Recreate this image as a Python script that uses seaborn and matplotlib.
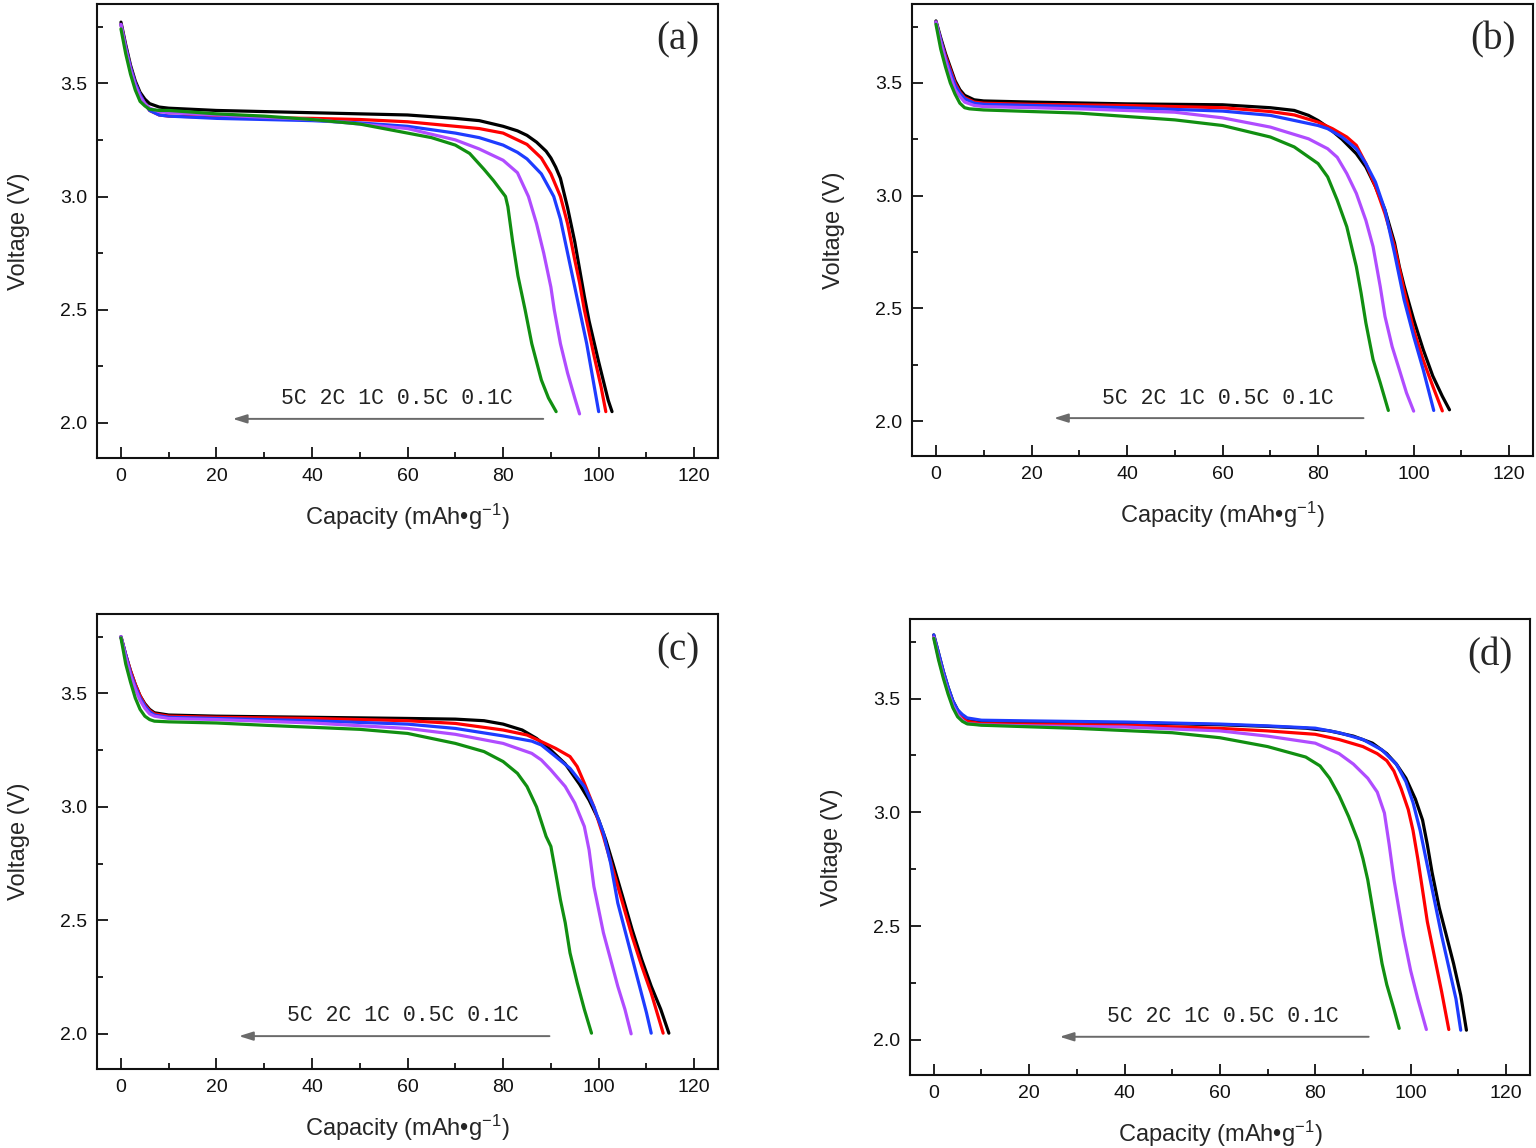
"""
Rate-capability discharge curves (0.1C to 5C) for four samples, 2x2 panels.
"""

import numpy as np
import pandas as pd
import seaborn as sns
import matplotlib.pyplot as plt
from matplotlib.ticker import MultipleLocator

RATES = ["0.1C", "0.5C", "1C", "2C", "5C"]
COLORS = {"0.1C": "#000000", "0.5C": "#ff0000", "1C": "#1e3cff",
          "2C": "#b04cff", "5C": "#118f11"}

# ---- panel (a): (capacity mAh/g, voltage V)
A_01C = [(0, 3.77), (0.5, 3.72), (1, 3.67), (2, 3.58), (3, 3.51), (4, 3.46), (5, 3.43),
         (6, 3.41), (8, 3.395), (10, 3.39), (20, 3.38), (40, 3.37), (60, 3.36), (70, 3.345),
         (75, 3.335), (80, 3.31), (83, 3.29), (85, 3.27), (87, 3.24), (88, 3.22), (89, 3.20),
         (90, 3.17), (91, 3.13), (92, 3.08), (93.5, 2.95), (95, 2.80), (96, 2.68), (97, 2.56),
         (98, 2.45), (100, 2.27), (102, 2.10), (102.8, 2.05)]
A_05C = [(0, 3.76), (1, 3.66), (2, 3.57), (3, 3.50), (4, 3.45), (5, 3.41), (6, 3.38),
         (8, 3.36), (10, 3.355), (20, 3.35), (40, 3.345), (50, 3.34), (60, 3.33), (70, 3.31),
         (75, 3.30), (80, 3.28), (83, 3.25), (85, 3.23), (88, 3.17), (90, 3.10), (92, 3.0),
         (93.5, 2.88), (95, 2.72), (96, 2.62), (97, 2.50), (99, 2.30), (100.5, 2.16),
         (101.5, 2.05)]
A_1C = [(0, 3.76), (1, 3.66), (2, 3.57), (3, 3.50), (4, 3.45), (5, 3.41), (6, 3.38),
        (8, 3.36), (10, 3.355), (20, 3.345), (40, 3.335), (50, 3.325), (60, 3.31), (70, 3.28),
        (75, 3.26), (80, 3.227), (83, 3.195), (85, 3.166), (88, 3.10), (90.6, 3.0), (92, 2.9),
        (93.5, 2.75), (95, 2.6), (96, 2.5), (97.5, 2.35), (99, 2.17), (100, 2.05)]
A_2C = [(0, 3.76), (1, 3.65), (2, 3.56), (3, 3.49), (4, 3.44), (5, 3.41), (6, 3.39),
        (8, 3.375), (10, 3.37), (20, 3.36), (40, 3.34), (50, 3.32), (60, 3.30), (70, 3.25),
        (75, 3.21), (80, 3.16), (83, 3.105), (85.3, 3.0), (87, 2.88), (88.5, 2.75), (90, 2.6),
        (90.7, 2.5), (92, 2.35), (93.5, 2.22), (95, 2.11), (96, 2.04)]
A_5C = [(0, 3.74), (1, 3.63), (2, 3.54), (3, 3.47), (4, 3.42), (5, 3.40), (6, 3.385),
        (8, 3.38), (10, 3.38), (20, 3.365), (30, 3.355), (40, 3.34), (50, 3.32), (60, 3.28),
        (65, 3.26), (70, 3.227), (73, 3.19), (76, 3.12), (78, 3.07), (80.5, 3.0), (81, 2.955),
        (82, 2.80), (83.1, 2.65), (84.6, 2.5), (86, 2.35), (88, 2.19), (89.5, 2.11),
        (91.1, 2.05)]

# ---- panel (b)
B_01C = [(0, 3.775), (1, 3.70), (2, 3.63), (3, 3.57), (4, 3.51), (5, 3.47), (6, 3.445),
         (8, 3.425), (10, 3.42), (20, 3.415), (40, 3.407), (60, 3.403), (70, 3.39), (75, 3.378),
         (78, 3.356), (80, 3.333), (82, 3.304), (85, 3.25), (88, 3.186), (90, 3.127), (92, 3.04),
         (94, 2.936), (96, 2.79), (97, 2.685), (98, 2.6), (100, 2.45), (102, 2.317), (104, 2.2),
         (106, 2.11), (107.5, 2.05)]
B_05C = [(0, 3.77), (1, 3.69), (2, 3.62), (3, 3.56), (4, 3.50), (5, 3.46), (6, 3.435),
         (8, 3.415), (10, 3.41), (20, 3.405), (40, 3.40), (60, 3.39), (70, 3.373), (75, 3.358),
         (80, 3.326), (83, 3.297), (86, 3.26), (88, 3.223), (90, 3.142), (92, 3.04), (94, 2.92),
         (96, 2.774), (98, 2.58), (100, 2.405), (102, 2.27), (104, 2.155), (106, 2.045)]
B_1C = [(0, 3.77), (1, 3.69), (2, 3.61), (3, 3.55), (4, 3.49), (5, 3.455), (6, 3.43),
        (8, 3.41), (10, 3.405), (20, 3.40), (40, 3.39), (60, 3.375), (70, 3.356), (80, 3.311),
        (82, 3.297), (85, 3.26), (88, 3.208), (90, 3.142), (92, 3.06), (94, 2.936), (96, 2.744),
        (98, 2.538), (100, 2.376), (102, 2.228), (104.2, 2.047)]
B_2C = [(0, 3.77), (1, 3.68), (2, 3.60), (3, 3.53), (4, 3.47), (5, 3.44), (6, 3.415),
        (8, 3.40), (10, 3.395), (20, 3.39), (30, 3.385), (50, 3.37), (60, 3.345), (70, 3.304),
        (78, 3.252), (82, 3.208), (84, 3.17), (86, 3.098), (88, 3.01), (90, 2.89), (91.5, 2.774),
        (93, 2.597), (94, 2.464), (95.5, 2.33), (97, 2.228), (98.5, 2.125), (100, 2.044)]
B_5C = [(0, 3.76), (1, 3.65), (2, 3.57), (3, 3.50), (4, 3.45), (5, 3.41), (6, 3.39),
        (7, 3.385), (10, 3.38), (20, 3.373), (30, 3.366), (50, 3.336), (60, 3.311), (70, 3.26),
        (75, 3.216), (80, 3.142), (82, 3.083), (84, 2.98), (86, 2.862), (88, 2.685), (89, 2.567),
        (90, 2.435), (91.5, 2.273), (93, 2.17), (94.7, 2.047)]

# ---- panel (c)
C_01C = [(0, 3.75), (1, 3.67), (2, 3.60), (3, 3.54), (4, 3.49), (5, 3.455), (6, 3.43),
         (7, 3.415), (10, 3.405), (20, 3.40), (40, 3.395), (60, 3.39), (70, 3.387), (76, 3.38),
         (80, 3.365), (84, 3.339), (87, 3.302), (90, 3.25), (93, 3.19), (96, 3.10), (98, 3.03),
         (100, 2.943), (101.5, 2.855), (103, 2.75), (105, 2.606), (107, 2.46), (109, 2.328),
         (111, 2.21), (113, 2.108), (114.7, 2.003)]
C_05C = [(0, 3.75), (1, 3.67), (2, 3.60), (3, 3.54), (4, 3.49), (5, 3.45), (6, 3.425),
         (7, 3.41), (10, 3.40), (20, 3.395), (40, 3.39), (60, 3.38), (70, 3.368), (80, 3.339),
         (85, 3.317), (88, 3.288), (91, 3.258), (94, 3.222), (95.5, 3.178), (97, 3.105),
         (99, 3.0), (101, 2.87), (103, 2.724), (105, 2.577), (107, 2.43), (109, 2.3),
         (111, 2.18), (113.5, 2.003)]
C_1C = [(0, 3.75), (1, 3.67), (2, 3.59), (3, 3.53), (4, 3.48), (5, 3.445), (6, 3.42),
        (7, 3.405), (10, 3.395), (20, 3.39), (40, 3.38), (60, 3.365), (70, 3.346), (80, 3.313),
        (86, 3.29), (88, 3.273), (91, 3.222), (94, 3.17), (97, 3.09), (99, 3.0), (101, 2.885),
        (102.5, 2.753), (104, 2.577), (106, 2.416), (108, 2.255), (110, 2.094), (111, 2.003)]
C_2C = [(0, 3.75), (1, 3.66), (2, 3.58), (3, 3.52), (4, 3.47), (5, 3.435), (6, 3.41),
        (7, 3.40), (10, 3.39), (20, 3.385), (40, 3.37), (60, 3.346), (70, 3.32), (80, 3.28),
        (86, 3.236), (88, 3.207), (90, 3.163), (93, 3.09), (95, 3.017), (97, 2.914), (98, 2.81),
        (99, 2.65), (100, 2.548), (101, 2.445), (102.5, 2.328), (104, 2.21), (105.5, 2.108),
        (106.8, 2.0)]
C_5C = [(0, 3.745), (1, 3.63), (2, 3.55), (3, 3.48), (4, 3.43), (5, 3.40), (6, 3.385),
        (7, 3.378), (10, 3.375), (20, 3.37), (30, 3.36), (50, 3.342), (60, 3.324), (70, 3.28),
        (76, 3.244), (80, 3.2), (83, 3.148), (85, 3.09), (87, 3.0), (89, 2.87), (90, 2.826),
        (91, 2.71), (92, 2.59), (93, 2.49), (94, 2.357), (95.5, 2.226), (97, 2.108), (98.5, 2.003)]

# ---- panel (d)
D_01C = [(0, 3.78), (1, 3.70), (2, 3.62), (3, 3.55), (4, 3.49), (5, 3.45), (6, 3.425),
         (7, 3.41), (10, 3.40), (20, 3.398), (40, 3.394), (60, 3.385), (70, 3.378), (78, 3.37),
         (83, 3.358), (88, 3.335), (92, 3.304), (95, 3.258), (97, 3.212), (99, 3.15),
         (101, 3.058), (102.5, 2.966), (103.5, 2.858), (104.5, 2.735), (106, 2.58),
         (107.5, 2.458), (109, 2.335), (110.5, 2.196), (111.7, 2.042)]
D_05C = [(0, 3.775), (1, 3.69), (2, 3.61), (3, 3.54), (4, 3.48), (5, 3.44), (6, 3.415),
         (7, 3.40), (10, 3.39), (20, 3.388), (40, 3.383), (60, 3.369), (70, 3.358), (80, 3.343),
         (85, 3.32), (90, 3.289), (93, 3.258), (95, 3.227), (96.5, 3.181), (98, 3.104),
         (99.5, 3.012), (100.5, 2.92), (101.5, 2.796), (102.5, 2.658), (103.5, 2.519),
         (105, 2.365), (106.5, 2.211), (108, 2.045)]
D_1C = [(0, 3.78), (1, 3.70), (2, 3.62), (3, 3.55), (4, 3.49), (5, 3.45), (6, 3.43),
        (7, 3.415), (10, 3.405), (20, 3.402), (40, 3.397), (60, 3.388), (70, 3.38), (80, 3.37),
        (85, 3.35), (90, 3.32), (94, 3.274), (97, 3.212), (99, 3.135), (100.5, 3.043),
        (102, 2.92), (103.5, 2.766), (105, 2.612), (106.5, 2.458), (108, 2.319), (109.5, 2.18),
        (110.5, 2.042)]
D_2C = [(0, 3.77), (1, 3.68), (2, 3.60), (3, 3.53), (4, 3.47), (5, 3.43), (6, 3.405),
        (7, 3.39), (10, 3.385), (20, 3.38), (40, 3.375), (60, 3.358), (70, 3.335), (80, 3.304),
        (85, 3.258), (88, 3.212), (91, 3.15), (93, 3.089), (94.5, 2.997), (95.5, 2.858),
        (96.5, 2.704), (97.5, 2.58), (98.5, 2.458), (100, 2.304), (101.5, 2.18), (103.3, 2.045)]
D_5C = [(0, 3.765), (1, 3.67), (2, 3.59), (3, 3.52), (4, 3.46), (5, 3.42), (6, 3.40),
        (7, 3.389), (10, 3.383), (20, 3.376), (30, 3.369), (50, 3.35), (60, 3.328), (70, 3.289),
        (78, 3.243), (81, 3.204), (83, 3.15), (85, 3.074), (87, 2.981), (89, 2.873), (90, 2.796),
        (91, 2.704), (92, 2.58), (93, 2.458), (94, 2.335), (95, 2.242), (96.5, 2.134),
        (97.6, 2.05)]

PANEL_CURVES = {
    "a": [A_01C, A_05C, A_1C, A_2C, A_5C],
    "b": [B_01C, B_05C, B_1C, B_2C, B_5C],
    "c": [C_01C, C_05C, C_1C, C_2C, C_5C],
    "d": [D_01C, D_05C, D_1C, D_2C, D_5C],
}

# arrow (x_start, x_end, y) and label centre (x, y), data units
ARROWS = {"a": (88.4, 23.4, 2.018, 57.7, 2.11),
          "b": (89.5, 24.7, 2.013, 59.0, 2.10),
          "c": (89.7, 24.7, 1.990, 59.0, 2.08),
          "d": (91.2, 26.4, 2.013, 60.6, 2.10)}

# axes rectangles in figure fraction
AX_RECTS = {"a": [0.0632, 0.6010, 0.4043, 0.3955],
            "b": [0.5938, 0.6028, 0.4043, 0.3937],
            "c": [0.0632, 0.0688, 0.4043, 0.3963],
            "d": [0.5924, 0.0636, 0.4036, 0.3972]}

sns.set_theme(style="ticks")
plt.rcParams["font.family"] = ["Liberation Sans", "DejaVu Sans"]
plt.rcParams["mathtext.fontset"] = "custom"
plt.rcParams["mathtext.rm"] = "Liberation Sans"
plt.rcParams["mathtext.it"] = "Liberation Sans:italic"

fig = plt.figure(figsize=(15.36, 11.48), dpi=100)

for key, curves in PANEL_CURVES.items():
    ax = fig.add_axes(AX_RECTS[key])
    rows = [(cap, volt, rate) for rate, pts in zip(RATES, curves) for cap, volt in pts]
    df = pd.DataFrame(rows, columns=["capacity", "voltage", "rate"])
    sns.lineplot(data=df, x="capacity", y="voltage", hue="rate", hue_order=RATES,
                 palette=COLORS, estimator=None, sort=False, linewidth=2.3,
                 legend=False, ax=ax)

    ax.set_xlim(-5, 125)
    ax.set_ylim(1.845, 3.85)
    ax.xaxis.set_major_locator(MultipleLocator(20))
    ax.xaxis.set_minor_locator(MultipleLocator(10))
    ax.yaxis.set_major_locator(MultipleLocator(0.5))
    ax.yaxis.set_minor_locator(MultipleLocator(0.25))
    ax.yaxis.set_major_formatter(plt.FormatStrFormatter("%.1f"))
    ax.tick_params(which="both", direction="in", top=False, right=False,
                   width=1.3, colors="#111111", labelsize=14, pad=7)
    ax.tick_params(which="major", length=8)
    ax.tick_params(which="minor", length=4.5)
    for sp in ax.spines.values():
        sp.set_linewidth(1.5)
        sp.set_color("#111111")
        sp.set_visible(True)

    ax.set_xlabel("Capacity (mAh\u2022g$^{-1}$)", fontsize=17, labelpad=12)
    ax.set_ylabel("Voltage (V)", fontsize=17, labelpad=22)

    x0, x1, ya, tx, ty = ARROWS[key]
    ax.annotate("", xy=(x1, ya), xytext=(x0, ya),
                arrowprops=dict(arrowstyle="-|>,head_length=0.7,head_width=0.22",
                                color="#6a6a6a", lw=1.4, shrinkA=0, shrinkB=0))
    ax.text(tx, ty, "5C 2C 1C 0.5C 0.1C", family="Liberation Mono", fontsize=15.5,
            ha="center", va="center", color="#222222")
    ax.text(0.936, 0.92, f"({key})", transform=ax.transAxes, family="Liberation Serif",
            fontsize=28, ha="center", va="center")

fig.savefig("out.png", dpi=100)
plt.close(fig)
